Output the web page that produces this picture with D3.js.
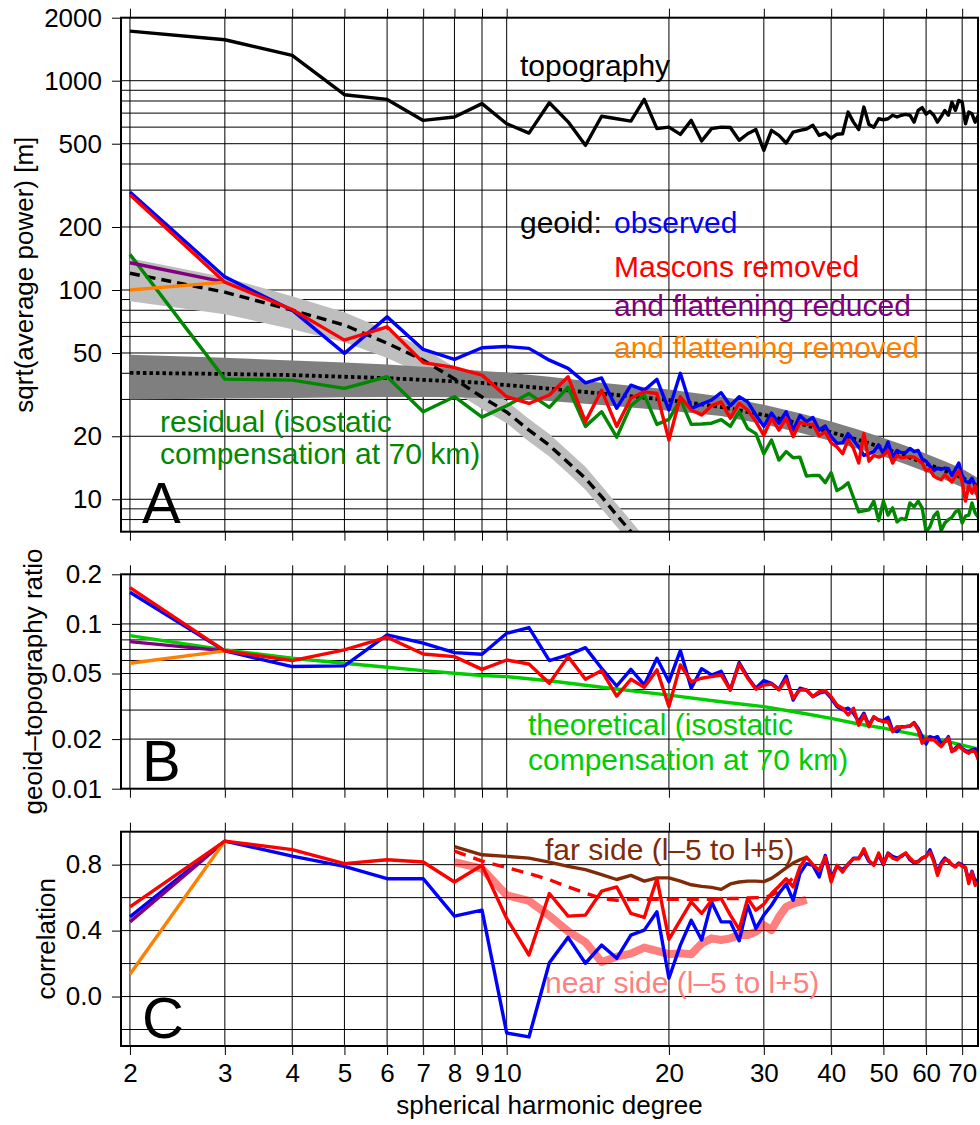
<!DOCTYPE html>
<html>
<head>
<meta charset="utf-8">
<script src="https://cdn.jsdelivr.net/npm/d3@7"></script>
<style>
  body { margin: 0; background: #fff; }
  svg text { font-family: "Liberation Sans", Arial, Helvetica, sans-serif; }
</style>
</head>
<body>
<svg width="980" height="1125"></svg>
<script>
// ---- data ----
const degrees = d3.range(2, 76);

// panel A: sqrt(average power) [m]
const topography = [1725, 1569, 1321, 857, 814, 646, 671, 777, 623, 562,
  785, 636, 491, 676, 658, 641, 814, 590, 600, 554,
  646, 515, 590, 600, 598, 519, 558, 584, 465, 579,
  548, 504, 568, 579, 588, 612, 548, 562, 531, 555,
  558, 708, 634, 584, 748, 618, 600, 658, 651, 658,
  684, 671, 684, 690, 684, 634, 721, 744, 692, 714,
  684, 634, 674, 721, 684, 790, 721, 805, 790, 623,
  708, 695, 634, 684];
const geoidObserved = [294, 115.5, 80.1, 49.8, 74.4, 52, 46.6, 53, 53.7, 52.6,
  46.2, 42.2, 36, 38, 27.2, 35.1, 33.2, 37.4, 26.7, 40,
  27.2, 28.5, 29.8, 32.3, 28, 30.9, 29.2, 25.3, 22.3, 25.8,
  23.1, 26.2, 21.4, 25.1, 23.5, 24.6, 21.4, 22.4, 19.9, 18.5,
  18.6, 20.6, 19.2, 17.8, 16.2, 16.5, 16.9, 18.2, 16.5, 18.8,
  15.9, 17.1, 16.7, 16.7, 17.5, 16.9, 17.1, 15.6, 15.2, 14.4,
  13.7, 14.1, 13.9, 14.1, 14, 13, 13.9, 14.9, 13, 12.2,
  12, 12.6, 11.6, 10.7];
const geoidMascons = [285, 109, 80.7, 57.6, 66.7, 45, 42.6, 39.2, 30.9, 28.7,
  31.5, 38.5, 23.5, 33.2, 22.3, 30.4, 32.6, 32, 19.2, 30.9,
  26.7, 25.3, 28, 29.2, 24.4, 28.7, 26.7, 23.5, 20.2, 24.4,
  21.4, 24.4, 19.9, 23.3, 22.8, 22.8, 20.1, 21, 18.6, 17.8,
  16.5, 19.2, 17.5, 14.9, 20.6, 15.2, 16.2, 15.9, 16.2, 17.1,
  14.9, 16.2, 15.8, 15.9, 16, 15.9, 15.4, 14.9, 13.7, 13.9,
  12.9, 12.6, 12.4, 13.1, 12.6, 12.1, 12.9, 13.7, 12.1, 9.8,
  11.6, 10.7, 11.6, 9.9];
const flatDegrees = [2, 3];
const geoidFlatReduced = [135, 109];
const geoidFlatRemoved = [100, 109];
const residual = [148, 37.5, 37.1, 33.9, 38.5, 26.2, 30.9, 24.7, 28, 32,
  27.5, 34.3, 22.3, 26.2, 19.8, 28, 31.5, 22.8, 24.1, 30,
  22.8, 22.9, 23.1, 24, 22.3, 26.2, 21.8, 20.6, 16.5, 19.2,
  15.4, 16.9, 15.8, 15.9, 12.9, 13, 13, 12, 13.4, 11,
  11.4, 12, 10.2, 8.7, 8.8, 8.9, 9.8, 7.9, 9.8, 8.4,
  9.1, 7.8, 8.1, 8, 9.6, 9.2, 9.8, 9.1, 7.0, 7.4,
  8.3, 8.7, 7.1, 7.7, 8, 8.2, 8.7, 8.9, 7.7, 8.3,
  8.4, 9.6, 8.6, 8.2];
const modelDegrees = d3.range(2, 19);
const modelGeoid = [120.2, 97.6, 80.1, 68, 55.7, 46.2, 37.6, 30.8, 26.1, 21.4, 18.1, 15.0, 12.6, 10.3, 8.4, 7.0, 5.8];
const modelUpper = [141.8, 115.1, 93.4, 78.3, 64.3, 52.8, 42.9, 34.7, 29.5, 24.2, 20.5, 17.0, 14.3, 11.6, 9.5, 7.9, 6.6];
const modelLower = [88.4, 76.6, 65.0, 56.3, 47.3, 39.6, 32.6, 27.0, 23.1, 18.9, 16.0, 13.3, 11.1, 9.0, 7.4, 6.2, 5.1];
const noiseDegrees = [2, 3, 4, 5, 6, 7, 8, 9, 10, 12, 15, 20, 25, 30, 35, 40, 45, 50, 55, 60, 65, 70, 75];
const noiseLevel = [40.2, 39.7, 39.2, 38.5, 37.9, 37.2, 36.6, 36, 35.1, 33.8, 32, 29.8, 27.6, 25.3, 23, 20.9, 19.2, 17.6, 16.1, 14.8, 13.7, 12.7, 11.5];
const noiseUpper = [49, 47.5, 46, 45, 44, 43, 42, 41, 40.3, 38.5, 36, 33.5, 31, 28.3, 25.8, 23.5, 21.5, 19.6, 18, 16.5, 15.2, 14, 12.6];
const noiseLower = [30, 30.3, 30.5, 30.7, 30.8, 30.8, 30.7, 30.5, 30.2, 29.5, 28.2, 26.5, 25, 22.8, 20.8, 19, 17.4, 16, 14.7, 13.5, 12.4, 11.4, 10.3];

// panel B: geoid-topography ratio
const ratioObserved = [0.1557, 0.0686, 0.0551, 0.0556, 0.0857, 0.0764, 0.0669, 0.0654, 0.0878, 0.095,
  0.0599, 0.0648, 0.0718, 0.0538, 0.042, 0.053, 0.0426, 0.0619, 0.0446, 0.0689,
  0.0407, 0.0535, 0.049, 0.0516, 0.0397, 0.0582, 0.0475, 0.0407, 0.0453, 0.0436,
  0.0401, 0.0483, 0.0345, 0.0407, 0.0397, 0.0362, 0.038, 0.0388, 0.0354, 0.0315,
  0.0301, 0.0308, 0.0287, 0.0255, 0.0287, 0.0243, 0.0273, 0.0261, 0.0259, 0.0271,
  0.0227, 0.0222, 0.0238, 0.0238, 0.024, 0.0252, 0.0233, 0.0207, 0.0187, 0.0207,
  0.0203, 0.0207, 0.0187, 0.0193, 0.0207, 0.0168, 0.0176, 0.0184, 0.0176, 0.017,
  0.0168, 0.0172, 0.0174, 0.0157];
const ratioMascons = [0.166, 0.0686, 0.0599, 0.0695, 0.083, 0.0657, 0.0633, 0.053, 0.0604, 0.0571,
  0.0436, 0.0633, 0.0461, 0.0521, 0.0365, 0.0461, 0.0413, 0.0526, 0.0315, 0.0564,
  0.0446, 0.0468, 0.0479, 0.049, 0.0397, 0.0571, 0.0468, 0.0401, 0.0426, 0.0432,
  0.0397, 0.0461, 0.0354, 0.0397, 0.0397, 0.0362, 0.0388, 0.0394, 0.0362, 0.0322,
  0.0308, 0.028, 0.0308, 0.0243, 0.028, 0.0238, 0.0273, 0.0261, 0.0255, 0.0255,
  0.0222, 0.0238, 0.0236, 0.0238, 0.024, 0.025, 0.0227, 0.0189, 0.0203, 0.0198,
  0.0198, 0.0189, 0.018, 0.0193, 0.0203, 0.0168, 0.0172, 0.0182, 0.0174, 0.0168,
  0.0164, 0.017, 0.0168, 0.015];
const ratioFlatReduced = [0.0781, 0.0686];
const ratioFlatRemoved = [0.0577, 0.0686];
const theoryDegrees = [2, 3, 4, 5, 6, 7, 8, 9, 10, 12, 15, 20, 25, 30, 35, 40, 45, 50, 55, 60, 65, 70, 75];
const theoryRatio = [0.0849, 0.0695, 0.0619, 0.0577, 0.0546, 0.0521, 0.0502, 0.0486, 0.0479, 0.0452, 0.0413, 0.037,
  0.0337, 0.0315, 0.0289, 0.0267, 0.0247, 0.0233, 0.0219, 0.0207, 0.0195, 0.0184, 0.0174];

// panel C: correlation
const corrObserved = [0.483, 0.943, 0.852, 0.79, 0.715, 0.715, 0.488, 0.524, -0.221, -0.245,
  0.205, 0.359, 0.202, 0.312, 0.232, 0.373, 0.403, 0.514, 0.111, 0.312,
  0.463, 0.343, 0.574, 0.453, 0.453, 0.338, 0.554, 0.413, 0.494, 0.554,
  0.625, 0.681, 0.584, 0.746, 0.806, 0.796, 0.725, 0.856, 0.72, 0.79,
  0.77, 0.80, 0.84, 0.84, 0.88, 0.82, 0.80, 0.86, 0.80, 0.87,
  0.85, 0.84, 0.85, 0.87, 0.83, 0.81, 0.82, 0.84, 0.85, 0.89,
  0.83, 0.75, 0.81, 0.84, 0.82, 0.80, 0.79, 0.81, 0.80, 0.78,
  0.70, 0.76, 0.70, 0.71];
const corrMascons = [0.544, 0.943, 0.891, 0.806, 0.83, 0.816, 0.695, 0.796, 0.474, 0.252,
  0.625, 0.488, 0.494, 0.639, 0.665, 0.504, 0.48, 0.715, 0.347, 0.463,
  0.574, 0.504, 0.584, 0.595, 0.494, 0.407, 0.595, 0.524, 0.56, 0.625,
  0.669, 0.715, 0.665, 0.786, 0.846, 0.80, 0.766, 0.846, 0.695, 0.796,
  0.755, 0.806, 0.836, 0.836, 0.897, 0.826, 0.796, 0.87, 0.806, 0.866,
  0.84, 0.83, 0.856, 0.87, 0.84, 0.816, 0.816, 0.84, 0.85, 0.876,
  0.82, 0.735, 0.80, 0.83, 0.826, 0.80, 0.786, 0.806, 0.79, 0.782,
  0.685, 0.755, 0.675, 0.695];
const corrFlatReduced = [0.453, 0.943];
const corrFlatRemoved = [0.135, 0.943];
const sideDegrees = d3.range(8, 37);
const farSide = [0.91, 0.86, 0.85, 0.84, 0.815, 0.79, 0.77, 0.74, 0.71, 0.735, 0.70, 0.72, 0.72, 0.70, 0.678,
  0.668, 0.662, 0.65, 0.683, 0.695, 0.70, 0.70, 0.697, 0.717, 0.748, 0.78, 0.81, 0.83, 0.845];
const farMasconsDegrees = d3.range(8, 36);
const farMascons = [0.882, 0.822, 0.782, 0.746, 0.709, 0.665, 0.628, 0.595, 0.584, 0.59, 0.59, 0.59, 0.59, 0.59,
  0.59, 0.59, 0.59, 0.592, 0.595, 0.595, 0.598, 0.60, 0.60, 0.615, 0.64, 0.68, 0.72, 0.76];
const nearSide = [0.816, 0.776, 0.615, 0.58, 0.49, 0.395, 0.33, 0.21, 0.242, 0.26, 0.297, 0.277, 0.257, 0.262, 0.257,
  0.322, 0.353, 0.343, 0.353, 0.373, 0.373, 0.393, 0.433, 0.403, 0.483, 0.544, 0.564, 0.574, 0.588];

// axes
const xTicks = [2, 3, 4, 5, 6, 7, 8, 9, 10, 20, 30, 40, 50, 60, 70];
const gridA = [8, 9, 10, 20, 30, 40, 50, 60, 70, 80, 90, 100, 200, 300, 400, 500, 600, 700, 800, 900, 1000];
const ticksA = [10, 20, 50, 100, 200, 500, 1000, 2000];
const gridB = [0.02, 0.03, 0.04, 0.05, 0.06, 0.07, 0.08, 0.09, 0.1];
const ticksB = [0.01, 0.02, 0.05, 0.1, 0.2];
const gridC = [-0.2, 0, 0.2, 0.4, 0.6, 0.8];
const ticksC = [0, 0.4, 0.8];

// ---- drawing ----
const svg = d3.select("svg");
const left = 121, right = 978;
const lw = 3.4;

const x = d3.scaleLog().domain([1.925, 74.9]).range([left, right]);
const yA = d3.scaleLog().domain([7, 2000]).range([531.7, 17.7]);
const yB = d3.scaleLog().domain([0.01, 0.2]).range([788.7, 574.3]);
const yC = d3.scaleLinear().domain([-0.3, 1.0]).range([1046, 831.7]);

const panels = [
  { id: "A", y: yA, grid: gridA, ticks: ticksA, fmt: d3.format("d") },
  { id: "B", y: yB, grid: gridB, ticks: ticksB, fmt: d => String(d) },
  { id: "C", y: yC, grid: gridC, ticks: ticksC, fmt: d3.format(".1f") }
];

function styleAxis(g) {
  g.select(".domain").remove();
  g.selectAll(".tick line").attr("stroke", "#000").attr("stroke-width", 1);
  g.selectAll(".tick text").attr("fill", "#000").attr("font-size", 26)
    .style("font-family", '"Liberation Sans", Arial, sans-serif');
}

panels.forEach(p => {
  const [bottom, top] = p.y.range();
  p.top = top; p.bottom = bottom;

  svg.append("clipPath").attr("id", "clip" + p.id)
    .append("rect").attr("x", left).attr("y", top).attr("width", right - left).attr("height", bottom - top);

  const grid = svg.append("g").attr("stroke", "#000").attr("stroke-width", 1);
  grid.selectAll(".v").data(xTicks).enter().append("line")
    .attr("x1", d => x(d)).attr("x2", d => x(d)).attr("y1", top).attr("y2", bottom);
  grid.selectAll(".h").data(p.grid).enter().append("line")
    .attr("x1", left).attr("x2", right).attr("y1", d => p.y(d)).attr("y2", d => p.y(d));

  svg.append("g").attr("transform", `translate(0,${top})`)
    .call(d3.axisTop(x).tickValues(xTicks).tickFormat("").tickSize(9)).call(styleAxis);
  const bottomAxis = d3.axisBottom(x).tickValues(xTicks).tickSize(9).tickPadding(9);
  if (p.id === "C") bottomAxis.tickFormat((d, i) => String(xTicks[i]));
  else bottomAxis.tickFormat("");
  svg.append("g").attr("transform", `translate(0,${bottom})`).call(bottomAxis).call(styleAxis);

  svg.append("g").attr("transform", `translate(${left},0)`)
    .call(d3.axisLeft(p.y).tickValues(p.ticks).tickFormat(p.fmt).tickSize(9).tickPadding(10))
    .call(styleAxis);

  p.g = svg.append("g").attr("clip-path", `url(#clip${p.id})`);
});

function series(g, xs, ys, yScale, color, width, dash) {
  const line = d3.line().x(d => x(d[0])).y(d => yScale(d[1]));
  g.append("path")
    .datum(d3.zip(xs, ys))
    .attr("fill", "none")
    .attr("stroke", color)
    .attr("stroke-width", width)
    .attr("stroke-linejoin", "round")
    .attr("stroke-dasharray", dash || null)
    .attr("d", line);
}

function band(g, xs, lo, hi, yScale, color) {
  const area = d3.area().x(d => x(d[0])).y0(d => yScale(d[1])).y1(d => yScale(d[2]));
  g.append("path").datum(d3.zip(xs, lo, hi)).attr("fill", color).attr("d", area);
}

// panel A
const gA = panels[0].g;
band(gA, modelDegrees, modelLower, modelUpper, yA, "#bebebe");
band(gA, noiseDegrees, noiseLower, noiseUpper, yA, "#7f7f7f");
series(gA, modelDegrees, modelGeoid, yA, "#000", lw, "10,6");
series(gA, noiseDegrees, noiseLevel, yA, "#000", 3.8, "3.5,3");
series(gA, degrees, topography, yA, "#000", lw);
series(gA, degrees, residual, yA, "#008800", lw);
series(gA, degrees, geoidObserved, yA, "#0000ff", lw);
series(gA, flatDegrees, geoidFlatReduced, yA, "#800080", lw);
series(gA, flatDegrees, geoidFlatRemoved, yA, "#ff7f00", lw);
series(gA, degrees, geoidMascons, yA, "#ff0000", lw);

// panel B
const gB = panels[1].g;
series(gB, theoryDegrees, theoryRatio, yB, "#00cd00", lw);
series(gB, degrees, ratioObserved, yB, "#0000ff", lw);
series(gB, flatDegrees, ratioFlatReduced, yB, "#800080", lw);
series(gB, flatDegrees, ratioFlatRemoved, yB, "#ff7f00", lw);
series(gB, degrees, ratioMascons, yB, "#ff0000", lw);

// panel C
const gC = panels[2].g;
series(gC, sideDegrees, farSide, yC, "#802a08", lw);
series(gC, farMasconsDegrees, farMascons, yC, "#ff0000", lw, "12,8");
series(gC, sideDegrees, nearSide, yC, "rgba(255,0,0,0.5)", 8);
series(gC, degrees, corrObserved, yC, "#0000ff", lw);
series(gC, flatDegrees, corrFlatReduced, yC, "#800080", lw);
series(gC, flatDegrees, corrFlatRemoved, yC, "#ff7f00", lw);
series(gC, degrees, corrMascons, yC, "#ff0000", lw);

// frames
panels.forEach(p => {
  svg.append("rect").attr("x", left).attr("y", p.top)
    .attr("width", right - left).attr("height", p.bottom - p.top)
    .attr("fill", "none").attr("stroke", "#000").attr("stroke-width", 2);
});

// annotations
const notes = [
  { t: "topography", x: 520, y: 76, c: "#000" },
  { t: "geoid:", x: 520, y: 233, c: "#000" },
  { t: "observed", x: 614, y: 233, c: "#0000ff" },
  { t: "Mascons removed", x: 614, y: 277, c: "#ff0000" },
  { t: "and flattening reduced", x: 614, y: 316, c: "#800080" },
  { t: "and flattening removed", x: 614, y: 358, c: "#ff7f00" },
  { t: "residual (isostatic", x: 160, y: 432, c: "#008800" },
  { t: "compensation at 70 km)", x: 160, y: 464, c: "#008800" },
  { t: "theoretical (isostatic", x: 528, y: 735, c: "#00cd00" },
  { t: "compensation at 70 km)", x: 528, y: 770, c: "#00cd00" },
  { t: "far side (l\u20135 to l+5)", x: 545, y: 860, c: "#802a08" },
  { t: "near side (l\u20135 to l+5)", x: 545, y: 993, c: "#ff8080" }
];
svg.selectAll(".note").data(notes).enter().append("text")
  .attr("x", d => d.x).attr("y", d => d.y).attr("fill", d => d.c)
  .attr("font-size", 30).text(d => d.t);

const letters = [
  { t: "A", y: 523 }, { t: "B", y: 781 }, { t: "C", y: 1038 }
];
svg.selectAll(".letter").data(letters).enter().append("text")
  .attr("x", 142).attr("y", d => d.y).attr("font-size", 58).attr("fill", "#000").text(d => d.t);

const yTitles = [
  { t: "sqrt(average power) [m]", x: 33, y: (panels[0].top + panels[0].bottom) / 2 },
  { t: "geoid\u2013topography ratio", x: 42, y: (panels[1].top + panels[1].bottom) / 2 },
  { t: "correlation", x: 55, y: (panels[2].top + panels[2].bottom) / 2 }
];
svg.selectAll(".ytitle").data(yTitles).enter().append("text")
  .attr("transform", d => `translate(${d.x},${d.y}) rotate(-90)`)
  .attr("text-anchor", "middle").attr("font-size", 26).attr("fill", "#000").text(d => d.t);

svg.append("text").attr("x", (left + right) / 2).attr("y", 1114)
  .attr("text-anchor", "middle").attr("font-size", 26).attr("fill", "#000")
  .text("spherical harmonic degree");
</script>
</body>
</html>
